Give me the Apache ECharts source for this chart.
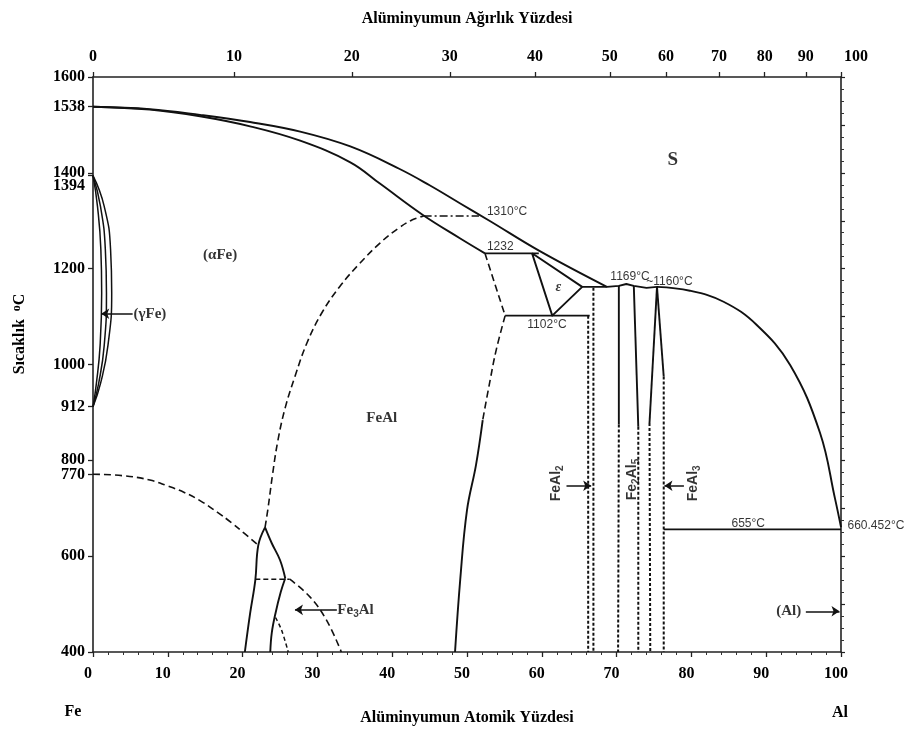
<!DOCTYPE html>
<html><head><meta charset="utf-8">
<script src="https://cdn.jsdelivr.net/npm/echarts@6/dist/echarts.min.js"></script>
<style>html,body{margin:0;padding:0;background:#fff}#c{width:923px;height:733px}</style>
</head><body><div id="c"></div>
<script>
// ---------- axes ----------
const leftTickVals = [400, 600, 770, 800, 912, 1000, 1200, 1394, 1400, 1538, 1600];
const topTickAt = [0, 18.85, 34.6, 47.7, 59.1, 69.1, 76.6, 83.7, 89.8, 95.3, 100];
const topTickText = ['0', '10', '20', '30', '40', '50', '60', '70', '80', '90', '100'];

// ---------- phase boundaries (at.% Al, °C) ----------
const liquidusFe = [[0,1538],[7.6,1533],[14.3,1521],[21.0,1506],[27.7,1486],[34.4,1455],[41.0,1408],[45.0,1374],[49.1,1336],[53.0,1300],[59.8,1236],[68.7,1162]];
const liquidusMid = [[65.4,1162],[68.7,1162],[70.3,1164],[71.3,1168],[72.3,1164],[74.0,1160],[75.4,1162]];
const liquidusAl = [[75.4,1162],[79.8,1154],[84.3,1131],[88.7,1083],[93.2,999],[97.2,857],[99.2,720],[100,660.5]];
const solidusAlpha = [[0,1538],[7.6,1532],[14.3,1518],[21.0,1497],[27.7,1467],[34.4,1422],[38.4,1377],[44.1,1312],[49.1,1263],[52.4,1232]];
const gammaInner = [[0,1394],[0.6,1330],[1.05,1240],[1.16,1150],[0.95,1040],[0.45,960],[0,912]];
const gammaMid = [[0,1394],[1.0,1330],[1.65,1240],[1.8,1150],[1.5,1040],[0.75,960],[0,912]];
const gammaOuter = [[0,1394],[1.5,1330],[2.35,1240],[2.5,1150],[2.0,1040],[1.0,960],[0,912]];
const curieLine = [[0,771],[4,768],[7.6,759],[9.9,747],[12.2,733],[14.3,716],[16.6,692],[18.5,670],[20.2,648],[22.1,623]];
const orderB2 = [[23.0,660],[23.4,700],[24.0,770],[24.7,840],[25.7,910],[27.0,975],[28.6,1045],[30.6,1108],[33.0,1163],[35.6,1210],[38.4,1254],[40.8,1284],[42.7,1302],[44.2,1310]];
const iso1310 = [[44.2,1310],[51.6,1310]];
const iso1232 = [[52.4,1232],[59.6,1232]];
const iso1102 = [[55.1,1102],[66.4,1102]];
const iso655 = [[76.3,656],[100,656]];
const feAlUpper = [[52.4,1232],[55.1,1102]];
const feAlLowerDashed = [[55.1,1102],[53.9,1030],[53.1,968],[52.1,884]];
const feAlLowerSolid = [[52.1,884],[51.2,790],[50.0,696],[49.1,552],[48.4,400]];
const epsilonPhase = [[58.7,1232],[61.4,1102],[65.4,1162],[58.7,1232]];
const feAl2Left = [[66.2,1102],[66.2,400]];
const feAl2Right = [[66.9,1160],[66.9,400]];
const fe2Al5ASolid = [[70.3,1164],[70.3,875]];
const fe2Al5ADash = [[70.3,875],[70.2,400]];
const fe2Al5BSolid = [[72.3,1164],[72.9,870]];
const fe2Al5BDash = [[72.9,870],[72.9,400]];
const feAl3LSolid = [[75.4,1162],[74.4,878]];
const feAl3LDash = [[74.4,878],[74.5,400]];
const feAl3RSolid = [[75.4,1162],[76.3,975]];
const feAl3RDash = [[76.3,975],[76.3,400]];
const fe3AlLeft = [[23.0,660],[22.1,623],[21.7,550],[21.0,480],[20.3,400]];
const fe3AlRightUpper = [[23.0,660],[23.9,627],[25.0,592],[25.7,554]];
const fe3AlRightLower = [[25.7,554],[25.1,525],[24.4,481],[23.9,440],[23.7,400]];
const iso550 = [[21.7,552],[26.3,552]];
const fe3AlOrder = [[26.3,552],[29.0,515],[31.2,467],[33.2,400]];
const fe3AlDome = [[24.4,472],[25.2,446],[26.1,400]];

// ---------- annotations ----------
const phaseLabels = [
  {text:'(αFe)', at:17.0, t:1229},
  {text:'FeAl', at:38.6, t:888},
  {text:'{big|S}', at:77.5, t:1427},
  {text:'{eps|ε}', at:62.2, t:1160},
  {text:'(γFe)', at:5.35, t:1106, pos:'right'},
  {text:'Fe{sub|3}Al', at:32.6, t:488, pos:'right'},
  {text:'(Al)', at:93.0, t:485}
];
const compoundLabels = [
  {text:'FeAl{sub|2}', at:61.9, t:752},
  {text:'Fe{sub|2}Al{sub|5}', at:72.1, t:760},
  {text:'FeAl{sub|3}', at:80.2, t:752}
];
const tempLabels = [
  {text:'1310°C', at:52.6, t:1319, pos:'right'},
  {text:'1232', at:52.6, t:1246, pos:'right'},
  {text:'1102°C', at:58.0, t:1083, pos:'right'},
  {text:'1169°C', at:69.1, t:1183, pos:'right'},
  {text:'~1160°C', at:73.9, t:1173, pos:'right'},
  {text:'655°C', at:87.6, t:667},
  {text:'660.452°C', at:100, t:663, pos:'right', dist:6}
];
const arrows = [
  [[5.3,1106],[1.1,1106]],
  [[32.6,488],[27.0,488]],
  [[95.3,485],[99.8,485]],
  [[63.3,747],[66.6,747]],
  [[79.0,747],[76.4,747]]
];

const SERIF = '"Liberation Serif","Times New Roman",serif';
const SANS = '"Liberation Sans",Arial,sans-serif';
const INK = '#111';

function L(data, o) {
  o = o || {};
  return {
    type: 'line', data: data, symbol: 'none', silent: true, animation: false, z: 3,
    smooth: o.smooth || false,
    lineStyle: {color: INK, width: o.width || 1.9, type: o.type || 'solid', cap: 'butt', join: 'round'}
  };
}
const DASH = [7, 4];
const DOT = [3, 2];

const series = [
  L(liquidusFe, {smooth: 0.4}),
  L(liquidusMid),
  L(liquidusAl, {smooth: 0.4}),
  L(solidusAlpha, {smooth: 0.4}),
  L(gammaInner, {smooth: 0.5, width: 1.5}),
  L(gammaMid, {smooth: 0.5, width: 1.5}),
  L(gammaOuter, {smooth: 0.5, width: 1.5}),
  L(curieLine, {smooth: 0.4, type: DASH, width: 1.6}),
  L(orderB2, {smooth: 0.4, type: DASH, width: 1.6}),
  L(iso1310, {type: [8, 3, 2, 3], width: 1.5}),
  L(iso1232),
  L(iso1102),
  L(iso655),
  L(feAlUpper, {type: DASH, width: 1.6}),
  L(feAlLowerDashed, {smooth: 0.4, type: DASH, width: 1.6}),
  L(feAlLowerSolid, {smooth: 0.4}),
  L(epsilonPhase),
  L(feAl2Left, {type: DOT, width: 2}),
  L(feAl2Right, {type: DOT, width: 2}),
  L(fe2Al5ASolid), L(fe2Al5ADash, {type: DOT, width: 2}),
  L(fe2Al5BSolid), L(fe2Al5BDash, {type: DOT, width: 2}),
  L(feAl3LSolid), L(feAl3LDash, {type: DOT, width: 2}),
  L(feAl3RSolid), L(feAl3RDash, {type: DOT, width: 2}),
  L(fe3AlLeft, {smooth: 0.4}),
  L(fe3AlRightUpper, {smooth: 0.4}),
  L(fe3AlRightLower, {smooth: 0.4}),
  L(iso550, {type: [5, 3], width: 1.5}),
  L(fe3AlOrder, {smooth: 0.4, type: DASH, width: 1.6}),
  L(fe3AlDome, {smooth: 0.4, type: [4, 3], width: 1.5})
];

// arrows
series.push({
  type: 'line', data: [], silent: true, animation: false,
  markLine: {
    silent: true, animation: false, symbol: ['none', 'arrow'], symbolSize: 8,
    label: {show: false},
    lineStyle: {color: INK, width: 1.5, type: 'solid'},
    data: arrows.map(a => [{coord: a[0]}, {coord: a[1]}])
  }
});

const subRich = {
  sub: {fontSize: 10, verticalAlign: 'bottom', fontFamily: SANS, fontWeight: 'bold', color: INK},
  big: {fontSize: 19, fontFamily: SERIF, fontWeight: 'bold', color: '#000'},
  eps: {fontSize: 14, fontFamily: SERIF, fontStyle: 'italic', fontWeight: 'bold', color: '#000'}
};
function textSeries(items, style) {
  return {
    type: 'scatter', silent: true, animation: false, z: 5,
    symbol: 'circle', symbolSize: 1, itemStyle: {color: 'rgba(0,0,0,0)'},
    data: items.map(it => ({
      value: [it.at, it.t],
      label: {
        show: true, formatter: it.text,
        position: it.pos || 'inside', distance: it.dist || 0,
        rotate: it.rot || style.rotate || 0,
        fontFamily: style.fontFamily, fontSize: style.fontSize, fontWeight: style.fontWeight,
        color: '#000', lineHeight: style.lineHeight, rich: subRich
      }
    }))
  };
}
series.push(textSeries(phaseLabels, {fontFamily: SERIF, fontSize: 15, fontWeight: 'bold', lineHeight: 18}));
series.push(textSeries(compoundLabels, {fontFamily: SANS, fontSize: 14, fontWeight: 'bold', lineHeight: 18, rotate: 90}));
series.push(textSeries(tempLabels, {fontFamily: SANS, fontSize: 12, fontWeight: 'normal', lineHeight: 14}));
// anchor for secondary axes
series.push({type: 'line', data: [], xAxisIndex: 1, yAxisIndex: 1, silent: true});

const axisLineStyle = {color: '#222', width: 1.6};
const boldLabel = {fontFamily: SERIF, fontWeight: 'bold', fontSize: 16, color: '#000'};

function nearest(arr, v) {
  let best = 0;
  for (let i = 1; i < arr.length; i++) if (Math.abs(arr[i] - v) < Math.abs(arr[best] - v)) best = i;
  return best;
}

const option = {
  backgroundColor: '#fff',
  animation: false,
  grid: {left: 93, right: 82, top: 77, bottom: 81},
  xAxis: [
    {
      type: 'value', position: 'bottom', min: 0, max: 100, interval: 10,
      axisLine: {show: true, onZero: false, lineStyle: axisLineStyle},
      axisTick: {show: true, length: 5, lineStyle: {color: '#222', width: 1.3}},
      minorTick: {show: true, splitNumber: 5, length: 3, lineStyle: {color: '#333', width: 1}},
      splitLine: {show: false},
      axisLabel: Object.assign({margin: 14, formatter: v => '{a|' + v + '}',
        rich: {a: Object.assign({padding: [0, 10, 0, 0]}, boldLabel)}}, boldLabel),
      name: 'Alüminyumun Atomik Yüzdesi', nameLocation: 'middle', nameGap: 58,
      nameTextStyle: boldLabel
    },
    {
      type: 'value', position: 'top', min: 0, max: 100,
      axisLine: {show: true, onZero: false, lineStyle: axisLineStyle},
      axisTick: {show: true, length: 5, customValues: topTickAt, lineStyle: {color: '#222', width: 1.3}},
      splitLine: {show: false},
      axisLabel: Object.assign({margin: 12, customValues: topTickAt,
        formatter: v => { const t = topTickText[nearest(topTickAt, v)]; return t === '100' ? '{r|100}' : t; },
        rich: {r: Object.assign({padding: [0, 0, 0, 30]}, boldLabel)}}, boldLabel),
      name: 'Alüminyumun Ağırlık Yüzdesi', nameLocation: 'middle', nameGap: 50,
      nameTextStyle: boldLabel
    }
  ],
  yAxis: [
    {
      type: 'value', position: 'left', min: 400, max: 1600,
      axisLine: {show: true, onZero: false, lineStyle: axisLineStyle},
      axisTick: {show: true, length: 5, customValues: leftTickVals, lineStyle: {color: '#222', width: 1.3}},
      splitLine: {show: false},
      axisLabel: Object.assign({margin: 8, customValues: leftTickVals,
        formatter: v => v === 1394 ? '{low|1394}' : String(v),
        rich: {low: Object.assign({padding: [20, 0, 0, 0]}, boldLabel)}}, boldLabel)
    },
    {
      type: 'value', position: 'right', min: 400, max: 1600, interval: 100,
      axisLine: {show: true, onZero: false, lineStyle: axisLineStyle},
      axisTick: {show: true, length: 4, lineStyle: {color: '#222', width: 1.2}},
      minorTick: {show: true, splitNumber: 4, length: 3, lineStyle: {color: '#333', width: 1}},
      splitLine: {show: false},
      axisLabel: {show: false}
    }
  ],
  graphic: [
    {type: 'text', x: 20, y: 334, rotation: Math.PI / 2, silent: true,
      style: {text: 'Sıcaklık  {o|o}C', align: 'center', verticalAlign: 'middle',
        fontFamily: SERIF, fontWeight: 'bold', fontSize: 16, fill: '#000',
        rich: {o: {fontFamily: SERIF, fontWeight: 'bold', fontSize: 12, verticalAlign: 'top', lineHeight: 18, fill: '#000'}}}},
    {type: 'text', x: 73, y: 712, silent: true,
      style: {text: 'Fe', align: 'center', verticalAlign: 'middle', fontFamily: SERIF, fontWeight: 'bold', fontSize: 16, fill: '#000'}},
    {type: 'text', x: 840, y: 713, silent: true,
      style: {text: 'Al', align: 'center', verticalAlign: 'middle', fontFamily: SERIF, fontWeight: 'bold', fontSize: 16, fill: '#000'}}
  ],
  series: series
};

const chart = echarts.init(document.getElementById('c'), null, {renderer: 'canvas'});
chart.setOption(option);
</script></body></html>
